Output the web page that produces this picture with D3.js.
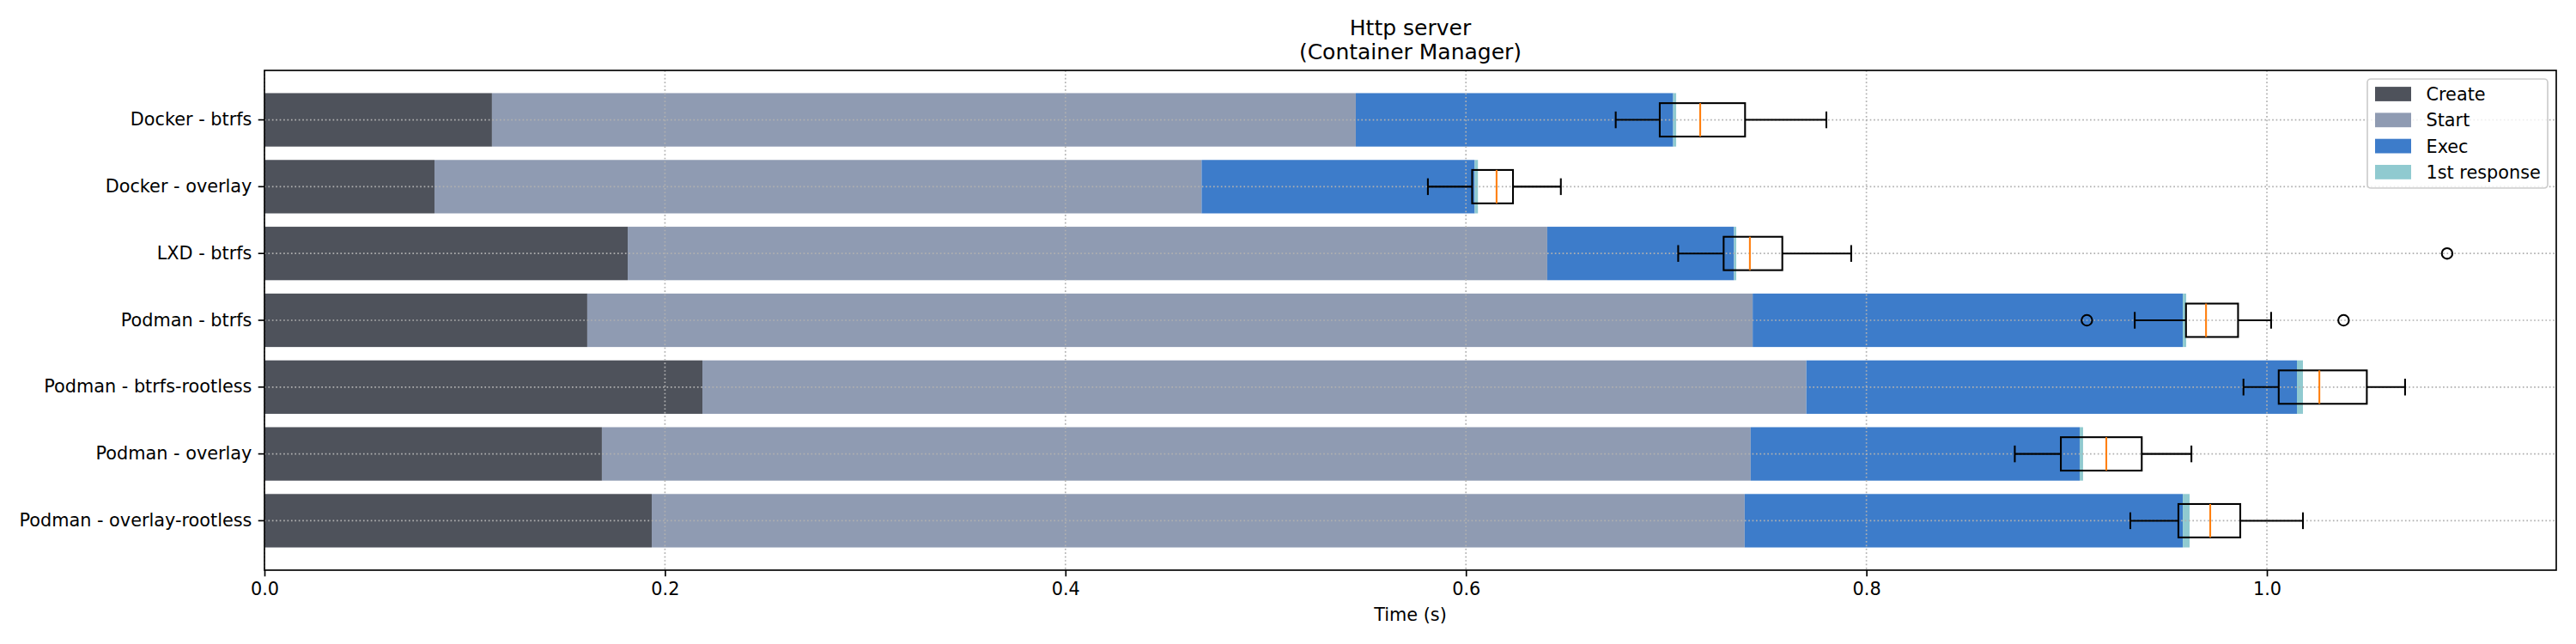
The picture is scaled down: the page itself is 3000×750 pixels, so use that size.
<!DOCTYPE html>
<html>
<head>
<meta charset="utf-8">
<script src="https://cdn.jsdelivr.net/npm/d3@7"></script>
<style>
  html, body { margin: 0; padding: 0; background: #fff; }
  svg { display: block; font-family: "DejaVu Sans", sans-serif; }
</style>
</head>
<body>
<svg id="chart" width="3000" height="750"></svg>
<script>
// ---- data ----
const categories = [
  "Docker - btrfs",
  "Docker - overlay",
  "LXD - btrfs",
  "Podman - btrfs",
  "Podman - btrfs-rootless",
  "Podman - overlay",
  "Podman - overlay-rootless"
];
const stageNames = ["Create", "Start", "Exec", "1st response"];
const stageColors = ["#4e525b", "#8f9bb2", "#3d7cca", "#90cad0"];

// durations of each stage (seconds)
const createTimes   = [0.1136, 0.0849, 0.1814, 0.1612, 0.2187, 0.1685, 0.1934];
const startTimes    = [0.4314, 0.3831, 0.4592, 0.5820, 0.5513, 0.5737, 0.5458];
const execTimes     = [0.1585, 0.1364, 0.0933, 0.2148, 0.2450, 0.1643, 0.2188];
const responseTimes = [0.0015, 0.0016, 0.0011, 0.0017, 0.0030, 0.0017, 0.0034];

// box plot statistics of total time
const whiskerLow  = [0.6748, 0.5810, 0.7060, 0.9340, 0.9883, 0.8741, 0.9318];
const quartile1   = [0.6968, 0.6031, 0.7287, 0.9596, 1.0059, 0.8971, 0.9558];
const medians     = [0.7170, 0.6153, 0.7418, 0.9696, 1.0262, 0.9198, 0.9717];
const quartile3   = [0.7394, 0.6235, 0.7580, 0.9856, 1.0499, 0.9375, 0.9867];
const whiskerHigh = [0.7800, 0.6474, 0.7924, 1.0021, 1.0690, 0.9623, 1.0180];
const outliers    = [[], [], [1.0900], [0.9101, 1.0383], [], [], []];

const xTicks = [0.0, 0.2, 0.4, 0.6, 0.8, 1.0];
const xMax = 1.1445;

// ---- layout ----
const W = 3000, H = 750;
const M = { left: 308, right: 23, top: 82, bottom: 86 };
const iw = W - M.left - M.right, ih = H - M.top - M.bottom;
const FS = 20.8;

const svg = d3.select("#chart");
const g = svg.append("g").attr("transform", `translate(${M.left},${M.top})`);

const x = d3.scaleLinear().domain([0, xMax]).range([0, iw]);
const y = d3.scaleBand().domain(categories).range([0, ih]).paddingInner(0.2).paddingOuter(0.34);
const step = y.step();

// stacked bars
const stageArrays = [createTimes, startTimes, execTimes, responseTimes];
const stackData = categories.map((c, i) => {
  const o = { cat: c };
  stageNames.forEach((s, k) => o[s] = stageArrays[k][i]);
  return o;
});
const series = d3.stack().keys(stageNames)(stackData);

g.append("g").selectAll("g").data(series).join("g")
  .attr("fill", (d, k) => stageColors[k])
  .selectAll("rect").data(d => d).join("rect")
  .attr("x", d => x(d[0]))
  .attr("width", d => x(d[1]) - x(d[0]))
  .attr("y", d => y(d.data.cat))
  .attr("height", y.bandwidth());

// grid (above bars, below boxes)
const grid = g.append("g").attr("stroke", "#b0b0b0").attr("stroke-width", 1.67)
  .attr("stroke-dasharray", "1.67,2.75");
grid.selectAll("line.v").data(xTicks).join("line").attr("class", "v")
  .attr("x1", d => x(d)).attr("x2", d => x(d)).attr("y1", 0).attr("y2", ih);
grid.selectAll("line.h").data(categories).join("line").attr("class", "h")
  .attr("x1", 0).attr("x2", iw)
  .attr("y1", d => y(d) + y.bandwidth() / 2).attr("y2", d => y(d) + y.bandwidth() / 2);

// box plots
const boxH = step * 0.5, capH = step * 0.25, LW = 2.08;
const boxes = g.append("g").selectAll("g").data(categories).join("g")
  .attr("transform", d => `translate(0,${y(d) + y.bandwidth() / 2})`);
boxes.append("line")
  .attr("x1", (d, i) => x(whiskerLow[i])).attr("x2", (d, i) => x(quartile1[i]))
  .attr("stroke", "#000").attr("stroke-width", LW);
boxes.append("line")
  .attr("x1", (d, i) => x(quartile3[i])).attr("x2", (d, i) => x(whiskerHigh[i]))
  .attr("stroke", "#000").attr("stroke-width", LW);
boxes.append("line")
  .attr("x1", (d, i) => x(whiskerLow[i])).attr("x2", (d, i) => x(whiskerLow[i]))
  .attr("y1", -capH / 2).attr("y2", capH / 2)
  .attr("stroke", "#000").attr("stroke-width", LW);
boxes.append("line")
  .attr("x1", (d, i) => x(whiskerHigh[i])).attr("x2", (d, i) => x(whiskerHigh[i]))
  .attr("y1", -capH / 2).attr("y2", capH / 2)
  .attr("stroke", "#000").attr("stroke-width", LW);
boxes.append("rect")
  .attr("x", (d, i) => x(quartile1[i]))
  .attr("width", (d, i) => x(quartile3[i]) - x(quartile1[i]))
  .attr("y", -boxH / 2).attr("height", boxH)
  .attr("fill", "none").attr("stroke", "#000").attr("stroke-width", LW);
boxes.append("line")
  .attr("x1", (d, i) => x(medians[i])).attr("x2", (d, i) => x(medians[i]))
  .attr("y1", -boxH / 2).attr("y2", boxH / 2)
  .attr("stroke", "#ff7f0e").attr("stroke-width", LW);
boxes.selectAll("circle").data((d, i) => outliers[i]).join("circle")
  .attr("cx", v => x(v)).attr("cy", 0).attr("r", 6.2)
  .attr("fill", "none").attr("stroke", "#000").attr("stroke-width", 2.08);

// axes
const xAxis = g.append("g").attr("transform", `translate(0,${ih})`)
  .call(d3.axisBottom(x).tickValues(xTicks).tickFormat(d3.format(".1f"))
    .tickSize(7.3).tickPadding(7.3));
const yAxis = g.append("g")
  .call(d3.axisLeft(y).tickSize(7.3).tickPadding(7.3));
[xAxis, yAxis].forEach(a => {
  a.select(".domain").remove();
  a.selectAll(".tick line").attr("stroke", "#000").attr("stroke-width", 1.67);
  a.selectAll(".tick text").attr("fill", "#000")
    .style("font-family", "DejaVu Sans").style("font-size", FS + "px");
});

// spines
g.append("rect").attr("x", 0).attr("y", 0).attr("width", iw).attr("height", ih)
  .attr("fill", "none").attr("stroke", "#000").attr("stroke-width", 1.67);

// labels
svg.append("text").attr("x", M.left + iw / 2).attr("y", 723)
  .attr("text-anchor", "middle").style("font-size", FS + "px").text("Time (s)");
const title = svg.append("text").attr("x", M.left + iw / 2).attr("y", 41)
  .attr("text-anchor", "middle").style("font-size", "25px");
title.append("tspan").attr("x", M.left + iw / 2).attr("y", 41).text("Http server");
title.append("tspan").attr("x", M.left + iw / 2).attr("y", 69).text("(Container Manager)");

// legend
const lg = svg.append("g");
lg.append("rect").attr("x", 2757).attr("y", 92).attr("width", 210).attr("height", 127)
  .attr("rx", 4).attr("fill", "#fff").attr("fill-opacity", 0.8)
  .attr("stroke", "#cccccc").attr("stroke-width", 1.67);
const items = lg.selectAll("g.item").data(stageNames).join("g").attr("class", "item")
  .attr("transform", (d, k) => `translate(2766,${109.5 + k * 30.3})`);
items.append("rect").attr("x", 0).attr("y", -8.4).attr("width", 42).attr("height", 16.8)
  .attr("fill", (d, k) => stageColors[k]);
items.append("text").attr("x", 59.5).attr("y", 0).attr("dy", "0.36em")
  .style("font-size", FS + "px").text(d => d);
</script>
</body>
</html>
